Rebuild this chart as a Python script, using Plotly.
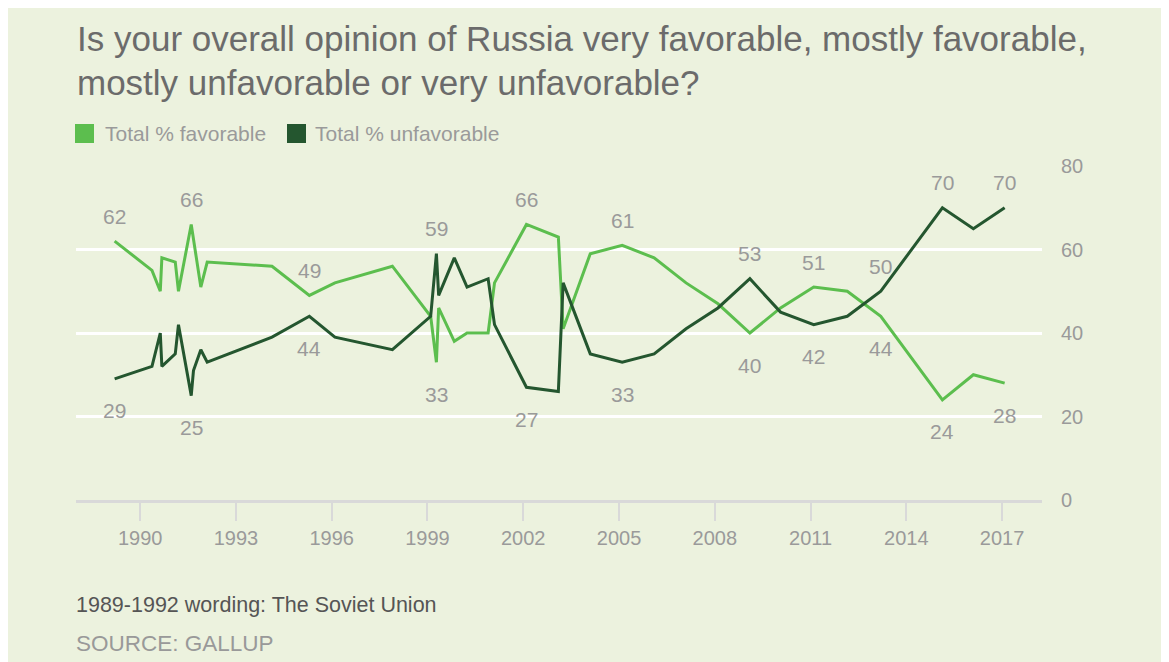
import plotly.graph_objects as go

# ---------------- data ----------------
series_names = ["Total % favorable", "Total % unfavorable"]

years_fav = [1989.2, 1990.37, 1990.63, 1990.68, 1991.1, 1991.2, 1991.6, 1991.9, 1992.1,
             1994.13, 1995.3, 1996.1, 1997.9, 1999.1, 1999.28, 1999.35, 1999.84, 2000.24, 2000.9,
             2001.1, 2002.1, 2003.1, 2003.25, 2004.1, 2005.1, 2006.1, 2007.1, 2008.1,
             2009.1, 2010.06, 2011.1, 2012.15, 2013.2, 2015.13, 2016.1, 2017.08]
fav = [62, 55, 50, 58, 57, 50, 66, 51, 57,
       56, 49, 52, 56, 44, 33, 46, 38, 40, 40,
       52, 66, 63, 41, 59, 61, 58, 52, 47,
       40, 46, 51, 50, 44, 24, 30, 28]

years_unfav = [1989.2, 1990.37, 1990.63, 1990.68, 1991.1, 1991.2, 1991.6, 1991.67, 1991.9, 1992.1,
               1994.13, 1995.3, 1996.1, 1997.9, 1999.1, 1999.28, 1999.35, 1999.84, 2000.24, 2000.9,
               2001.1, 2002.1, 2003.1, 2003.25, 2004.1, 2005.1, 2006.1, 2007.1, 2008.1,
               2009.1, 2010.06, 2011.1, 2012.15, 2013.2, 2015.13, 2016.1, 2017.08]
unfav = [29, 32, 40, 32, 35, 42, 25, 31, 36, 33,
         39, 44, 39, 36, 44, 59, 49, 58, 51, 53,
         42, 27, 26, 52, 35, 33, 35, 41, 46,
         53, 45, 42, 44, 50, 70, 65, 70]

# labelled points: index into series, and whether the label sits above or below
fav_label_idx = [0, 6, 10, 14, 20, 24, 28, 30, 32, 33, 35]
fav_label_pos = ["above", "above", "above", "below", "above", "above", "below", "above", "below", "below", "below"]
unfav_label_idx = [0, 6, 11, 15, 21, 25, 29, 31, 33, 34, 36]
unfav_label_pos = ["below", "below", "below", "above", "below", "below", "above", "below", "above", "above", "above"]

x_ticks = [1990, 1993, 1996, 1999, 2002, 2005, 2008, 2011, 2014, 2017]
y_ticks = [0, 20, 40, 60, 80]

title_lines = ["Is your overall opinion of Russia very favorable, mostly favorable,",
               "mostly unfavorable or very unfavorable?"]
footnote = "1989-1992 wording: The Soviet Union"
source = "SOURCE: GALLUP"

# ---------------- style ----------------
W, H = 1169, 662
OFF = 8  # page body margin; positions below are given in screen pixels
PL, PR, PT, PB = 76, 1042, 166, 500   # plot area on screen
ML, MT = PL - OFF, PT - OFF
MR = W - (PR - OFF)
MB = H - (PB - OFF)
PW, PH = PR - PL, PB - PT
BG = "#ECF2DE"
FAV_C = "#5CBE4E"
UNF_C = "#24562F"
GREY = "#9a9a9a"
FONT = "Liberation Sans, Arial, sans-serif"


def px_x(px):
    return (px - PL) / PW


def px_y(py):
    return (PB - py) / PH


fig = go.Figure()
fig.add_trace(go.Scatter(x=years_fav, y=fav, mode="lines", name=series_names[0],
                         line=dict(color=FAV_C, width=3), showlegend=False))
fig.add_trace(go.Scatter(x=years_unfav, y=unfav, mode="lines", name=series_names[1],
                         line=dict(color=UNF_C, width=3), showlegend=False))

annotations = []
for xs, ys, idxs, poss in [(years_fav, fav, fav_label_idx, fav_label_pos),
                           (years_unfav, unfav, unfav_label_idx, unfav_label_pos)]:
    for i, p in zip(idxs, poss):
        annotations.append(dict(x=xs[i], y=ys[i], xref="x", yref="y", text=str(ys[i]),
                                showarrow=False, yshift=25 if p == "above" else -32,
                                font=dict(family=FONT, size=21, color=GREY)))

# title lines
for line, cy in zip(title_lines, [38, 82]):
    annotations.append(dict(x=px_x(75), y=px_y(cy), xref="paper", yref="paper", xanchor="left",
                            yanchor="middle", showarrow=False, text=line,
                            font=dict(family=FONT, size=35, color="#6b6b6b")))

# legend (custom squares)
shapes = []
leg_sq_x = [75, 287]
leg_txt_x = [103, 313]
for name, col, sx, tx in zip(series_names, [FAV_C, UNF_C], leg_sq_x, leg_txt_x):
    shapes.append(dict(type="rect", xref="paper", yref="paper", x0=px_x(sx), x1=px_x(sx + 19),
                       y0=px_y(143), y1=px_y(124), fillcolor=col, line=dict(width=0)))
    annotations.append(dict(x=px_x(tx), y=px_y(134), xref="paper", yref="paper", xanchor="left",
                            yanchor="middle", showarrow=False, text=name,
                            font=dict(family=FONT, size=21, color=GREY)))

annotations.append(dict(x=px_x(74), y=px_y(605), xref="paper", yref="paper", xanchor="left",
                        yanchor="middle", showarrow=False, text=footnote,
                        font=dict(family=FONT, size=21.5, color="#555555")))
annotations.append(dict(x=px_x(74), y=px_y(643), xref="paper", yref="paper", xanchor="left",
                        yanchor="middle", showarrow=False, text=source,
                        font=dict(family=FONT, size=22.5, color="#999999")))

fig.update_layout(
    width=W, height=H,
    margin=dict(l=ML, r=MR, t=MT, b=MB, pad=0),
    paper_bgcolor=BG, plot_bgcolor=BG,
    showlegend=False,
    annotations=annotations,
    shapes=shapes,
    font=dict(family=FONT, color=GREY),
)
fig.update_xaxes(range=[1987.99, 2018.25], tickvals=x_ticks, ticktext=[str(t) for t in x_ticks],
                 showgrid=False, zeroline=False, showline=True, linecolor="#d9d9d9", linewidth=3,
                 ticks="outside", ticklen=18, tickwidth=2, tickcolor="#d9d9d9",
                 tickfont=dict(family=FONT, size=20, color=GREY), fixedrange=True)
fig.update_yaxes(range=[0, 80], tickvals=y_ticks, side="right", showgrid=True, gridcolor="white",
                 gridwidth=3, zeroline=False, showline=False, ticks="",
                 ticklabelstandoff=18,
                 tickfont=dict(family=FONT, size=20, color=GREY), fixedrange=True)

fig.write_html("out.html")
